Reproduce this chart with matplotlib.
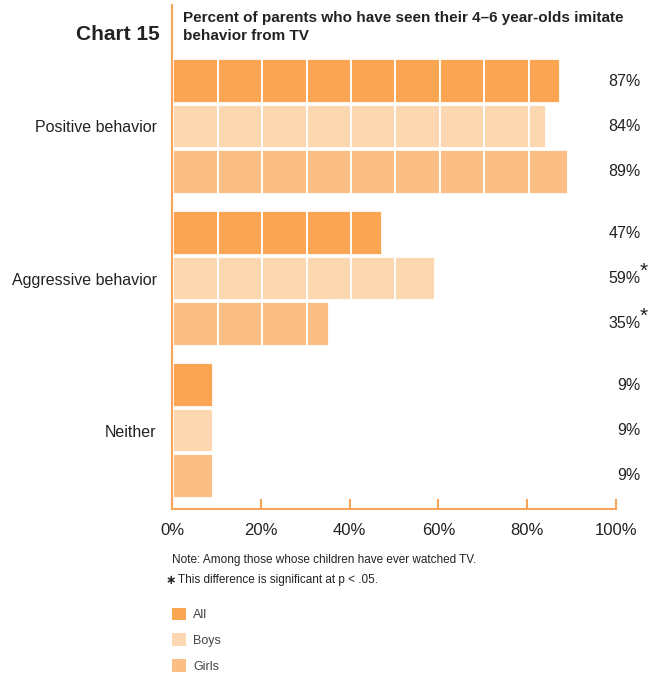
import matplotlib
matplotlib.use("Agg")
import matplotlib.pyplot as plt
import numpy as np

plt.rcParams['font.family'] = ['Liberation Sans', 'DejaVu Sans']

categories = ["Positive behavior", "Aggressive behavior", "Neither"]
series = ["All", "Boys", "Girls"]
values = {
    "All":   [87, 47, 9],
    "Boys":  [84, 59, 9],
    "Girls": [89, 35, 9],
}
significant = {
    "All":   [False, False, False],
    "Boys":  [False, True, False],
    "Girls": [False, True, False],
}
colors = {"All": "#F9A552", "Boys": "#FDD6B2", "Girls": "#FBBE84"}
orange = "#F7A55C"
xticks = [0, 20, 40, 60, 80, 100]
xticklabels = ["0%", "20%", "40%", "60%", "80%", "100%"]

W, H = 660, 675
fig = plt.figure(figsize=(W / 100, H / 100), dpi=100)
ax_left, ax_right, ax_top, ax_bot = 172, 616, 55, 509
ax = fig.add_axes([ax_left / W, 1 - ax_bot / H, (ax_right - ax_left) / W, (ax_bot - ax_top) / H])

pitch = 0.298
height = 0.286
seg = 10
handles = {}
for si, s in enumerate(series):
    for ci, v in enumerate(values[s]):
        y = ci + (si - 1) * pitch
        starts = np.arange(0, v, seg)
        widths = np.minimum(seg, v - starts)
        bars = ax.barh(np.full(len(starts), y), widths, left=starts + 0.3, height=height,
                       color=colors[s], edgecolor="white", linewidth=1.3, label=s)
        handles[s] = bars
        lab = f"{v}%"
        ax.text(1.056, y, lab, transform=ax.get_yaxis_transform(), ha="right", va="center",
                fontsize=11.5, color="#222222")
        if significant[s][ci]:
            ax.text(1.053, y - 0.05, "*", transform=ax.get_yaxis_transform(), ha="left",
                    va="center", fontsize=15, color="#222222")

ax.set_xlim(0, 100)
ax.set_ylim(2 + 0.516, -0.47)
ax.set_yticks(range(len(categories)))
ax.set_yticklabels(categories, fontsize=11.5, color="#222222")
ax.tick_params(axis="y", length=0, pad=11)
ax.set_xticks(xticks)
ax.set_xticklabels(xticklabels, fontsize=12, color="#222222")
ax.tick_params(axis="x", direction="in", length=7, width=1.5, color=orange, pad=10)
for sp in ["top", "right", "left"]:
    ax.spines[sp].set_visible(False)
ax.spines["bottom"].set_color(orange)
ax.spines["bottom"].set_linewidth(1.5)
ax.axvline(0, ymin=0, ymax=(ax_bot - 5) / (ax_bot - ax_top), color=orange, lw=1.5, clip_on=False)

fig.text(160 / W, 1 - 35 / H, "Chart 15", ha="right", va="center", fontsize=15, fontweight="bold", color="#222222")
fig.text(183 / W, 1 - 27 / H, "Percent of parents who have seen their 4\u20136 year-olds imitate\nbehavior from TV",
         ha="left", va="center", fontsize=11, fontweight="bold", color="#222222", linespacing=1.35)

fig.text(172 / W, 1 - 560 / H, "Note: Among those whose children have ever watched TV.",
         ha="left", va="center", fontsize=8.5, color="#222222")
fig.text(166 / W, 1 - 581 / H, "\u2217", ha="left", va="center", fontsize=9, fontweight="bold", color="#222222",
         family="DejaVu Sans")
fig.text(178 / W, 1 - 580 / H, "This difference is significant at p < .05.",
         ha="left", va="center", fontsize=8.5, color="#222222")

leg = fig.legend([handles[s][0] for s in series], series, loc="upper left",
                 bbox_to_anchor=(164 / W, 1 - 600 / H), frameon=False, fontsize=9,
                 handlelength=1.15, handleheight=1.15, handletextpad=0.6, labelspacing=1.0,
                 borderaxespad=0.2)
for t in leg.get_texts():
    t.set_color("#444444")
for h in leg.legend_handles:
    h.set_edgecolor("none")

fig.savefig("out.png", dpi=100)
